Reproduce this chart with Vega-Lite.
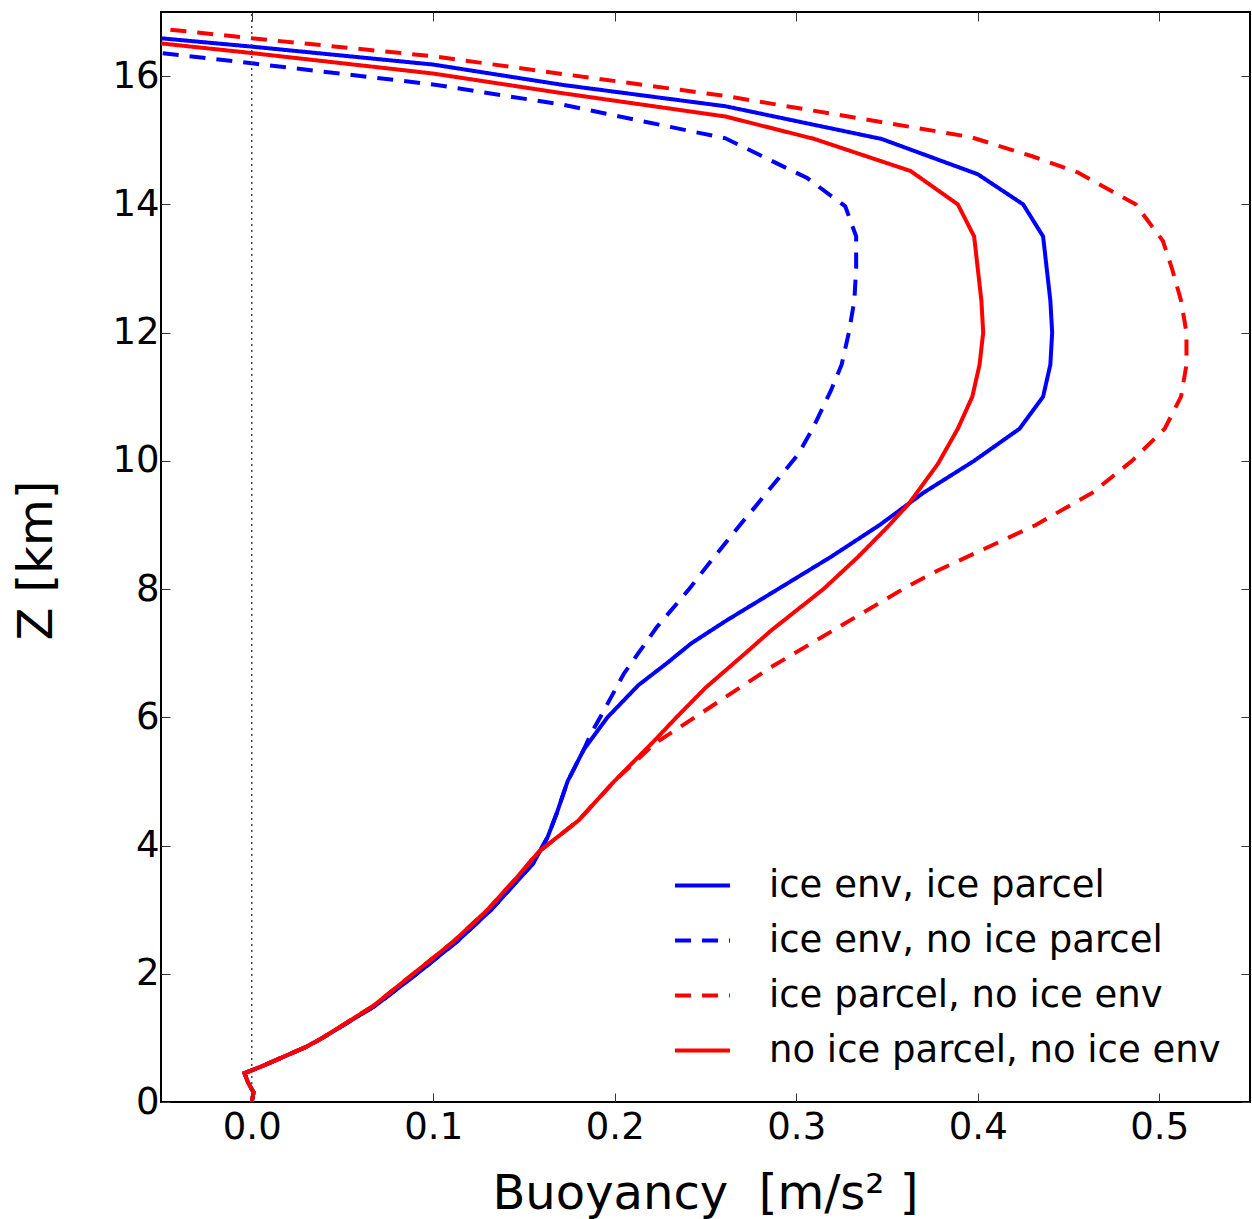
{
  "$schema": "https://vega.github.io/schema/vega-lite/v6.json",
  "width": 1089,
  "height": 1090,
  "autosize": {"type": "none"},
  "padding": {"left": 161, "top": 12, "right": 2, "bottom": 117},
  "background": "white",
  "config": {
    "view": {"stroke": "black", "strokeWidth": 2},
    "font": "DejaVu Sans"
  },
  "resolve": {"axis": {"x": "independent", "y": "independent"}},
  "layer": [
    {
      "data": {"values": [
        {"series": "ice env, ice parcel", "z": 0.0, "b": 0.0},
        {"series": "ice env, ice parcel", "z": 0.15, "b": 0.001},
        {"series": "ice env, ice parcel", "z": 0.3, "b": -0.002},
        {"series": "ice env, ice parcel", "z": 0.45, "b": -0.004},
        {"series": "ice env, ice parcel", "z": 0.55, "b": 0.005},
        {"series": "ice env, ice parcel", "z": 0.86, "b": 0.030},
        {"series": "ice env, ice parcel", "z": 1.0, "b": 0.039},
        {"series": "ice env, ice parcel", "z": 1.5, "b": 0.068},
        {"series": "ice env, ice parcel", "z": 2.0, "b": 0.091},
        {"series": "ice env, ice parcel", "z": 2.5, "b": 0.113},
        {"series": "ice env, ice parcel", "z": 3.0, "b": 0.132},
        {"series": "ice env, ice parcel", "z": 3.5, "b": 0.148},
        {"series": "ice env, ice parcel", "z": 3.72, "b": 0.155},
        {"series": "ice env, ice parcel", "z": 4.13, "b": 0.163},
        {"series": "ice env, ice parcel", "z": 4.5, "b": 0.168},
        {"series": "ice env, ice parcel", "z": 5.0, "b": 0.174},
        {"series": "ice env, ice parcel", "z": 5.5, "b": 0.183},
        {"series": "ice env, ice parcel", "z": 6.0, "b": 0.196},
        {"series": "ice env, ice parcel", "z": 6.5, "b": 0.213},
        {"series": "ice env, ice parcel", "z": 6.85, "b": 0.229},
        {"series": "ice env, ice parcel", "z": 7.15, "b": 0.242},
        {"series": "ice env, ice parcel", "z": 7.5, "b": 0.261},
        {"series": "ice env, ice parcel", "z": 8.0, "b": 0.290},
        {"series": "ice env, ice parcel", "z": 8.5, "b": 0.319},
        {"series": "ice env, ice parcel", "z": 9.0, "b": 0.346},
        {"series": "ice env, ice parcel", "z": 9.5, "b": 0.370},
        {"series": "ice env, ice parcel", "z": 10.0, "b": 0.398},
        {"series": "ice env, ice parcel", "z": 10.5, "b": 0.423},
        {"series": "ice env, ice parcel", "z": 11.0, "b": 0.436},
        {"series": "ice env, ice parcel", "z": 11.5, "b": 0.440},
        {"series": "ice env, ice parcel", "z": 12.0, "b": 0.441},
        {"series": "ice env, ice parcel", "z": 12.5, "b": 0.440},
        {"series": "ice env, ice parcel", "z": 13.0, "b": 0.438},
        {"series": "ice env, ice parcel", "z": 13.5, "b": 0.436},
        {"series": "ice env, ice parcel", "z": 14.0, "b": 0.425},
        {"series": "ice env, ice parcel", "z": 14.47, "b": 0.400},
        {"series": "ice env, ice parcel", "z": 15.02, "b": 0.347},
        {"series": "ice env, ice parcel", "z": 15.53, "b": 0.261},
        {"series": "ice env, ice parcel", "z": 15.86, "b": 0.172},
        {"series": "ice env, ice parcel", "z": 16.18, "b": 0.1},
        {"series": "ice env, ice parcel", "z": 16.46, "b": 0.0},
        {"series": "ice env, ice parcel", "z": 16.59, "b": -0.05},

        {"series": "ice env, no ice parcel", "z": 0.0, "b": 0.0},
        {"series": "ice env, no ice parcel", "z": 0.15, "b": 0.001},
        {"series": "ice env, no ice parcel", "z": 0.3, "b": -0.002},
        {"series": "ice env, no ice parcel", "z": 0.45, "b": -0.004},
        {"series": "ice env, no ice parcel", "z": 0.55, "b": 0.005},
        {"series": "ice env, no ice parcel", "z": 0.86, "b": 0.030},
        {"series": "ice env, no ice parcel", "z": 1.0, "b": 0.039},
        {"series": "ice env, no ice parcel", "z": 1.5, "b": 0.068},
        {"series": "ice env, no ice parcel", "z": 2.0, "b": 0.091},
        {"series": "ice env, no ice parcel", "z": 2.5, "b": 0.113},
        {"series": "ice env, no ice parcel", "z": 3.0, "b": 0.132},
        {"series": "ice env, no ice parcel", "z": 3.5, "b": 0.148},
        {"series": "ice env, no ice parcel", "z": 3.72, "b": 0.155},
        {"series": "ice env, no ice parcel", "z": 4.13, "b": 0.163},
        {"series": "ice env, no ice parcel", "z": 4.5, "b": 0.168},
        {"series": "ice env, no ice parcel", "z": 5.0, "b": 0.174},
        {"series": "ice env, no ice parcel", "z": 5.5, "b": 0.183},
        {"series": "ice env, no ice parcel", "z": 5.75, "b": 0.187},
        {"series": "ice env, no ice parcel", "z": 6.0, "b": 0.192},
        {"series": "ice env, no ice parcel", "z": 6.68, "b": 0.205},
        {"series": "ice env, no ice parcel", "z": 7.0, "b": 0.213},
        {"series": "ice env, no ice parcel", "z": 7.4, "b": 0.223},
        {"series": "ice env, no ice parcel", "z": 8.0, "b": 0.241},
        {"series": "ice env, no ice parcel", "z": 8.33, "b": 0.250},
        {"series": "ice env, no ice parcel", "z": 9.0, "b": 0.269},
        {"series": "ice env, no ice parcel", "z": 9.27, "b": 0.277},
        {"series": "ice env, no ice parcel", "z": 10.1, "b": 0.301},
        {"series": "ice env, no ice parcel", "z": 10.5, "b": 0.309},
        {"series": "ice env, no ice parcel", "z": 11.09, "b": 0.319},
        {"series": "ice env, no ice parcel", "z": 11.5, "b": 0.325},
        {"series": "ice env, no ice parcel", "z": 12.0, "b": 0.329},
        {"series": "ice env, no ice parcel", "z": 12.5, "b": 0.332},
        {"series": "ice env, no ice parcel", "z": 13.0, "b": 0.333},
        {"series": "ice env, no ice parcel", "z": 13.5, "b": 0.333},
        {"series": "ice env, no ice parcel", "z": 13.97, "b": 0.327},
        {"series": "ice env, no ice parcel", "z": 14.41, "b": 0.306},
        {"series": "ice env, no ice parcel", "z": 15.03, "b": 0.261},
        {"series": "ice env, no ice parcel", "z": 15.55, "b": 0.172},
        {"series": "ice env, no ice parcel", "z": 15.87, "b": 0.1},
        {"series": "ice env, no ice parcel", "z": 16.2, "b": 0.0},
        {"series": "ice env, no ice parcel", "z": 16.36, "b": -0.05},

        {"series": "ice parcel, no ice env", "z": 0.0, "b": 0.0},
        {"series": "ice parcel, no ice env", "z": 0.15, "b": 0.001},
        {"series": "ice parcel, no ice env", "z": 0.3, "b": -0.002},
        {"series": "ice parcel, no ice env", "z": 0.45, "b": -0.004},
        {"series": "ice parcel, no ice env", "z": 0.55, "b": 0.005},
        {"series": "ice parcel, no ice env", "z": 0.86, "b": 0.030},
        {"series": "ice parcel, no ice env", "z": 1.0, "b": 0.039},
        {"series": "ice parcel, no ice env", "z": 1.5, "b": 0.067},
        {"series": "ice parcel, no ice env", "z": 2.0, "b": 0.089},
        {"series": "ice parcel, no ice env", "z": 2.5, "b": 0.111},
        {"series": "ice parcel, no ice env", "z": 3.0, "b": 0.130},
        {"series": "ice parcel, no ice env", "z": 3.5, "b": 0.146},
        {"series": "ice parcel, no ice env", "z": 3.9, "b": 0.158},
        {"series": "ice parcel, no ice env", "z": 4.39, "b": 0.180},
        {"series": "ice parcel, no ice env", "z": 5.01, "b": 0.200},
        {"series": "ice parcel, no ice env", "z": 5.59, "b": 0.222},
        {"series": "ice parcel, no ice env", "z": 6.11, "b": 0.250},
        {"series": "ice parcel, no ice env", "z": 6.78, "b": 0.286},
        {"series": "ice parcel, no ice env", "z": 7.4, "b": 0.323},
        {"series": "ice parcel, no ice env", "z": 8.02, "b": 0.360},
        {"series": "ice parcel, no ice env", "z": 8.29, "b": 0.378},
        {"series": "ice parcel, no ice env", "z": 9.0, "b": 0.432},
        {"series": "ice parcel, no ice env", "z": 9.5, "b": 0.463},
        {"series": "ice parcel, no ice env", "z": 10.0, "b": 0.485},
        {"series": "ice parcel, no ice env", "z": 10.5, "b": 0.503},
        {"series": "ice parcel, no ice env", "z": 11.0, "b": 0.512},
        {"series": "ice parcel, no ice env", "z": 11.5, "b": 0.515},
        {"series": "ice parcel, no ice env", "z": 12.0, "b": 0.515},
        {"series": "ice parcel, no ice env", "z": 12.5, "b": 0.512},
        {"series": "ice parcel, no ice env", "z": 13.0, "b": 0.507},
        {"series": "ice parcel, no ice env", "z": 13.43, "b": 0.502},
        {"series": "ice parcel, no ice env", "z": 14.0, "b": 0.487},
        {"series": "ice parcel, no ice env", "z": 14.5, "b": 0.455},
        {"series": "ice parcel, no ice env", "z": 14.75, "b": 0.430},
        {"series": "ice parcel, no ice env", "z": 15.05, "b": 0.396},
        {"series": "ice parcel, no ice env", "z": 15.26, "b": 0.352},
        {"series": "ice parcel, no ice env", "z": 15.69, "b": 0.261},
        {"series": "ice parcel, no ice env", "z": 16.03, "b": 0.172},
        {"series": "ice parcel, no ice env", "z": 16.31, "b": 0.1},
        {"series": "ice parcel, no ice env", "z": 16.59, "b": 0.0},
        {"series": "ice parcel, no ice env", "z": 16.74, "b": -0.05},

        {"series": "no ice parcel, no ice env", "z": 0.0, "b": 0.0},
        {"series": "no ice parcel, no ice env", "z": 0.15, "b": 0.001},
        {"series": "no ice parcel, no ice env", "z": 0.3, "b": -0.002},
        {"series": "no ice parcel, no ice env", "z": 0.45, "b": -0.004},
        {"series": "no ice parcel, no ice env", "z": 0.55, "b": 0.005},
        {"series": "no ice parcel, no ice env", "z": 0.86, "b": 0.030},
        {"series": "no ice parcel, no ice env", "z": 1.0, "b": 0.039},
        {"series": "no ice parcel, no ice env", "z": 1.5, "b": 0.067},
        {"series": "no ice parcel, no ice env", "z": 2.0, "b": 0.089},
        {"series": "no ice parcel, no ice env", "z": 2.5, "b": 0.111},
        {"series": "no ice parcel, no ice env", "z": 3.0, "b": 0.130},
        {"series": "no ice parcel, no ice env", "z": 3.5, "b": 0.146},
        {"series": "no ice parcel, no ice env", "z": 3.9, "b": 0.158},
        {"series": "no ice parcel, no ice env", "z": 4.39, "b": 0.180},
        {"series": "no ice parcel, no ice env", "z": 5.01, "b": 0.200},
        {"series": "no ice parcel, no ice env", "z": 5.64, "b": 0.222},
        {"series": "no ice parcel, no ice env", "z": 6.0, "b": 0.234},
        {"series": "no ice parcel, no ice env", "z": 6.46, "b": 0.250},
        {"series": "no ice parcel, no ice env", "z": 7.0, "b": 0.272},
        {"series": "no ice parcel, no ice env", "z": 7.35, "b": 0.286},
        {"series": "no ice parcel, no ice env", "z": 8.0, "b": 0.315},
        {"series": "no ice parcel, no ice env", "z": 8.5, "b": 0.334},
        {"series": "no ice parcel, no ice env", "z": 8.96, "b": 0.350},
        {"series": "no ice parcel, no ice env", "z": 9.33, "b": 0.362},
        {"series": "no ice parcel, no ice env", "z": 9.95, "b": 0.378},
        {"series": "no ice parcel, no ice env", "z": 10.5, "b": 0.389},
        {"series": "no ice parcel, no ice env", "z": 11.0, "b": 0.397},
        {"series": "no ice parcel, no ice env", "z": 11.5, "b": 0.401},
        {"series": "no ice parcel, no ice env", "z": 12.0, "b": 0.403},
        {"series": "no ice parcel, no ice env", "z": 12.5, "b": 0.402},
        {"series": "no ice parcel, no ice env", "z": 13.0, "b": 0.400},
        {"series": "no ice parcel, no ice env", "z": 13.5, "b": 0.398},
        {"series": "no ice parcel, no ice env", "z": 14.0, "b": 0.389},
        {"series": "no ice parcel, no ice env", "z": 14.52, "b": 0.363},
        {"series": "no ice parcel, no ice env", "z": 15.02, "b": 0.310},
        {"series": "no ice parcel, no ice env", "z": 15.37, "b": 0.261},
        {"series": "no ice parcel, no ice env", "z": 15.73, "b": 0.172},
        {"series": "no ice parcel, no ice env", "z": 16.04, "b": 0.1},
        {"series": "no ice parcel, no ice env", "z": 16.36, "b": 0.0},
        {"series": "no ice parcel, no ice env", "z": 16.51, "b": -0.05}
      ]},
      "mark": {"type": "line", "strokeWidth": 4, "clip": true},
      "encoding": {
        "x": {
          "field": "b", "type": "quantitative",
          "scale": {"domain": [-0.05, 0.55], "nice": false, "zero": false},
          "axis": {
            "orient": "bottom",
            "values": [0, 0.1, 0.2, 0.3, 0.4, 0.5],
            "format": ".1f",
            "grid": false, "domain": false,
            "tickSize": -9, "tickColor": "#333333", "tickWidth": 1,
            "labelFont": "DejaVu Sans", "labelFontSize": 37, "labelColor": "black",
            "labelPadding": 16,
            "title": "Buoyancy\u00a0\u00a0[m/s² ]",
            "titleFont": "DejaVu Sans", "titleFontSize": 48, "titleFontWeight": "normal",
            "titleColor": "black",
            "titleX": 544, "titleY": 106, "titleAlign": "center", "titleBaseline": "alphabetic"
          }
        },
        "y": {
          "field": "z", "type": "quantitative",
          "scale": {"domain": [0, 17], "nice": false, "zero": false},
          "axis": {
            "orient": "left",
            "values": [0, 2, 4, 6, 8, 10, 12, 14, 16],
            "format": "d",
            "grid": false, "domain": false,
            "tickSize": -9, "tickColor": "#333333", "tickWidth": 1,
            "labelFont": "DejaVu Sans", "labelFontSize": 37, "labelColor": "black",
            "labelPadding": 11,
            "title": "Z [km]",
            "titleFont": "DejaVu Sans", "titleFontSize": 48, "titleFontWeight": "normal",
            "titleColor": "black",
            "titleAngle": -90,
            "titleX": -124, "titleY": 548, "titleAlign": "center", "titleBaseline": "middle"
          }
        },
        "order": {"field": "z", "type": "quantitative"},
        "color": {
          "field": "series", "type": "nominal",
          "scale": {
            "domain": ["ice env, ice parcel", "ice env, no ice parcel", "ice parcel, no ice env", "no ice parcel, no ice env"],
            "range": ["#0000ff", "#0000ff", "#ff0000", "#ff0000"]
          },
          "sort": null,
          "legend": {
            "orient": "none", "legendX": 512, "legendY": 844,
            "title": null,
            "symbolType": "stroke", "symbolSize": 3025, "symbolStrokeWidth": 4,
            "labelFont": "DejaVu Sans", "labelFontSize": 37, "labelColor": "black",
            "labelOffset": 37, "rowPadding": 7, "labelLimit": 1000
          }
        },
        "strokeDash": {
          "field": "series", "type": "nominal",
          "scale": {
            "domain": ["ice env, ice parcel", "ice env, no ice parcel", "ice parcel, no ice env", "no ice parcel, no ice env"],
            "range": [[1, 0], [16, 11], [16, 11], [1, 0]]
          },
          "sort": null,
          "legend": {
            "orient": "none", "legendX": 512, "legendY": 844,
            "title": null,
            "symbolType": "stroke", "symbolSize": 3025, "symbolStrokeWidth": 4,
            "labelFont": "DejaVu Sans", "labelFontSize": 37, "labelColor": "black",
            "labelOffset": 37, "rowPadding": 7, "labelLimit": 1000
          }
        }
      }
    },
    {
      "data": {"values": [{"b": 0}]},
      "mark": {"type": "rule", "stroke": "#444444", "strokeWidth": 1.5, "strokeDash": [2, 4]},
      "encoding": {
        "x": {
          "field": "b", "type": "quantitative",
          "axis": {
            "orient": "top",
            "values": [0, 0.1, 0.2, 0.3, 0.4, 0.5],
            "labels": false, "title": null, "grid": false, "domain": false,
            "tickSize": -9, "tickColor": "#333333", "tickWidth": 1
          }
        },
        "y": {"datum": 0, "type": "quantitative",
          "axis": {
            "orient": "right",
            "values": [0, 2, 4, 6, 8, 10, 12, 14, 16],
            "labels": false, "title": null, "grid": false, "domain": false,
            "tickSize": -9, "tickColor": "#333333", "tickWidth": 1
          }
        },
        "y2": {"datum": 17}
      }
    }
  ]
}
